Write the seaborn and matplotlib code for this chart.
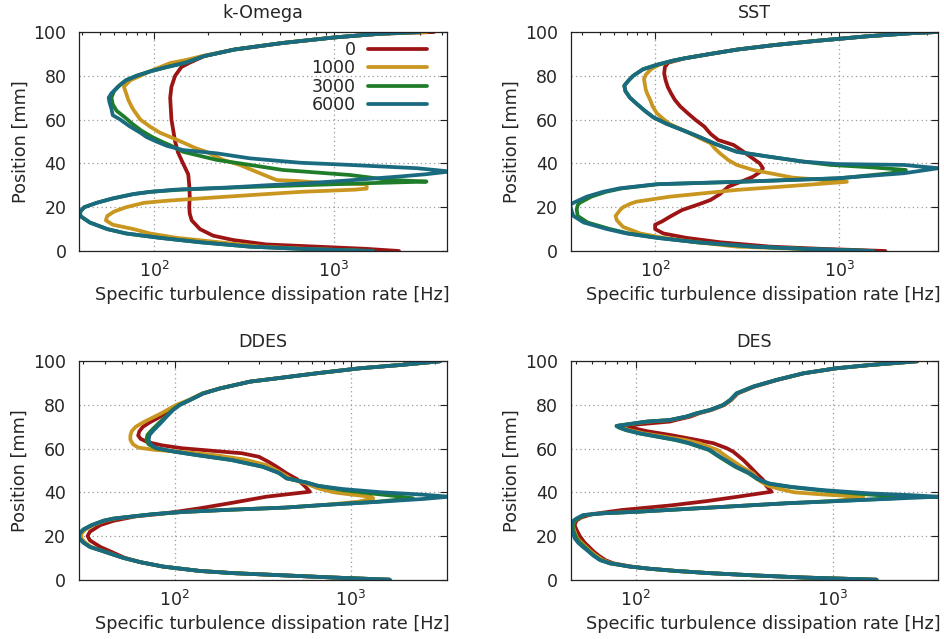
import matplotlib
matplotlib.use("Agg")
import matplotlib.pyplot as plt
import pandas as pd
import seaborn as sns
from matplotlib.ticker import FixedLocator, LogLocator, LogFormatterMathtext, NullFormatter

# ---------------- data ----------------
SERIES = ["0", "1000", "3000", "6000"]
COLORS = ["#9c1414", "#c9961f", "#1f7d2a", "#1a6a80"]
TITLES = ["k-Omega", "SST", "DDES", "DES"]
XLABEL = "Specific turbulence dissipation rate [Hz]"
YLABEL = "Position [mm]"
YTICKS = [0, 20, 40, 60, 80, 100]
XTICKS = [100, 1000]
XLIMS = [(38.3, 4250), (34.8, 3450), (28.5, 3510), (46.8, 3440)]

# k-Omega
KO_POS_0 = [0, 1, 3, 5, 7, 10, 14, 17, 20, 25, 30, 35, 40, 45, 50, 55, 60, 65, 70, 75, 80, 84, 86, 89, 92, 95, 97.5, 99.2, 100]
KO_VAL_0 = [2300, 1500, 420, 276, 213, 180, 162, 158, 157, 158, 157, 155, 145, 136, 131, 128, 125, 124, 123, 125, 131, 142, 158, 190, 280, 520, 1000, 1800, 3600]
KO_POS_1 = [0, 1, 2, 4, 6, 8, 10, 12, 14, 16, 18, 20, 22, 23, 24, 25.5, 27, 28, 28.5, 30.5, 31, 32, 32.4, 35.5, 39.3, 41.6, 43.8, 45.3, 47, 49, 51.5, 54, 56.8, 60, 64.4, 66, 69, 72, 75, 78, 80, 82.7, 85.8, 87.3, 89, 92, 95, 97.5, 99.2, 100]
KO_VAL_1 = [1500, 700, 390, 230, 134, 95, 77, 59, 54, 55, 60, 70, 88, 120, 180, 340, 650, 1300, 1520, 1520, 900, 620, 480, 388, 300, 242, 213, 195, 170, 150, 128, 108, 95, 84, 77, 75, 72, 70, 68, 74, 84, 99, 123, 152, 185, 280, 520, 1000, 1800, 3300]
KO_POS_2 = [0, 1, 2, 4, 6, 8, 10, 13, 16, 18, 20, 22, 24, 26, 27, 28, 29, 30, 31, 31.7, 32.5, 34.7, 37, 39.3, 41.6, 45.3, 48, 50, 52, 55, 58, 61, 64, 67, 70, 73, 76, 78, 80, 82, 84, 86, 89, 92, 95, 97.5, 99.2, 100]
KO_VAL_2 = [1650, 650, 340, 180, 108, 70, 55, 44, 39, 39, 41, 48, 59, 77, 95, 140, 280, 650, 1600, 3270, 2000, 1230, 520, 342, 223, 145, 125, 110, 98, 85, 76, 69, 62, 59, 58, 60, 65, 70, 80, 95, 118, 150, 190, 280, 520, 1000, 1800, 3000]
KO_POS_3 = [0, 1, 2, 4, 6, 8, 10, 13, 16, 18, 20, 22, 24, 26, 27, 28, 29, 30, 31, 32, 33, 34, 35, 36.3, 37.8, 39.3, 40.3, 42.3, 44.6, 46.1, 48, 50, 52, 54, 57, 60, 62, 65, 68, 70, 72, 75, 78, 80, 82, 84, 86, 89, 92, 95, 97.5, 99.2, 100]
KO_VAL_3 = [1650, 650, 340, 180, 108, 70, 55, 44, 38.8, 38.8, 41, 48, 59, 77, 95, 130, 260, 420, 720, 1100, 1600, 2300, 3200, 4400, 2900, 1230, 650, 342, 223, 145, 118, 103, 91, 84, 73, 65, 59, 58, 56.5, 56, 58, 63, 70, 80, 95, 118, 150, 190, 280, 520, 1000, 1800, 3000]

# SST
SST_POS_0 = [0, 1, 2, 4, 6, 8, 10, 12, 13.5, 15.6, 18.7, 21.5, 23.3, 26, 29.4, 32, 33.9, 36, 37.8, 40, 43, 45.5, 48.4, 50.7, 53.5, 56.8, 60, 63, 66, 69, 72, 75, 78, 81, 84, 86, 88, 90, 92, 94, 96, 98, 99.5, 100]
SST_VAL_0 = [1780, 790, 420, 225, 148, 111, 100, 100, 109, 120, 140, 175, 200, 225, 250, 300, 340, 370, 385, 370, 330, 300, 267, 220, 200, 185, 165, 150, 137, 128, 122, 117, 114, 112, 113, 118, 145, 200, 280, 440, 760, 1400, 2500, 3400]
SST_POS_1 = [0, 1, 2, 4, 6, 8, 11, 14, 16, 18.7, 20, 21.5, 22.5, 24.8, 27.9, 30.1, 31.6, 32.5, 33.5, 35.5, 37, 39.3, 41.5, 44.6, 47, 49.2, 51.5, 53.7, 56, 58, 60.5, 63, 66, 69, 71.5, 73.6, 76, 78.5, 80.5, 83, 85, 86.5, 88, 90, 92, 94, 96, 98, 99.5, 100]
SST_VAL_1 = [1050, 600, 278, 168, 111, 83, 67, 62, 61, 64.5, 67, 73, 79, 120, 278, 640, 1100, 800, 560, 422, 340, 278, 250, 225, 210, 200, 175, 155, 135, 120, 110, 102, 97, 94, 91, 89, 88, 87, 89, 95, 105, 120, 145, 200, 280, 440, 760, 1400, 2500, 3400]
SST_POS_2 = [0, 1, 2, 4, 6, 8, 10, 13, 16, 19, 21, 22, 24.8, 27, 28.6, 30.5, 31.6, 33.2, 35.5, 37, 38.2, 39.3, 40.8, 43, 45.3, 47.5, 49.2, 52, 55, 58, 61, 64, 67, 70, 73, 75.5, 78, 80, 83, 85, 87, 88, 90, 92, 94, 96, 98, 99.5, 100]
SST_VAL_2 = [1530, 640, 342, 168, 104, 72, 57, 43, 38, 37.5, 38, 39, 45, 54, 66, 104, 290, 1000, 1900, 2300, 1500, 900, 640, 420, 278, 235, 208, 175, 143, 116, 98, 88, 80, 73, 69, 68, 72, 76, 86, 102, 126, 145, 200, 280, 440, 760, 1400, 2500, 3400]
SST_POS_3 = [0, 1, 2, 4, 6, 8, 10, 13, 16, 19, 21, 22, 24.8, 27, 28.6, 30.5, 31.6, 33.2, 35.5, 37.8, 39.3, 39.7, 40.8, 43, 45.3, 47.5, 49.2, 52, 55, 58, 61, 64, 67, 70, 73, 75.5, 78, 80, 83, 85, 87, 88, 90, 92, 94, 96, 98, 99.5, 100]
SST_VAL_3 = [1530, 640, 342, 168, 102, 70, 55, 41, 36, 35, 34.5, 36, 42.5, 52, 64, 102, 278, 970, 2240, 3450, 2240, 970, 640, 420, 278, 235, 208, 175, 143, 116, 98, 88, 80, 73, 69, 68, 72, 76, 86, 102, 126, 145, 200, 280, 440, 760, 1400, 2500, 3400]

# DDES
DDES_POS_0 = [0, 1, 2, 3, 4, 6, 8, 10, 13, 15, 18, 20, 22, 25, 27, 29, 30, 31, 32.7, 35.3, 38, 40.3, 43, 46, 48.7, 51.7, 54, 56.3, 57.9, 58.9, 60.2, 61.5, 63, 64.5, 66, 68, 70, 72, 74, 76, 78, 80, 82.3, 85.3, 87.6, 90.7, 92.2, 94.5, 96.8, 98.3, 100]
DDES_VAL_0 = [1660, 795, 413, 215, 139, 86, 64, 52, 43, 37.8, 33, 32, 33, 37.8, 45, 60, 80, 100, 139, 215, 331, 585, 545, 495, 431, 379, 340, 300, 240, 170, 110, 85, 70, 64, 62, 63, 66, 72, 80, 88, 96, 105, 122, 145, 181, 268, 379, 638, 1125, 1900, 3200]
DDES_POS_1 = [0, 1, 2, 3, 4, 6, 8, 10, 13, 15, 17, 19, 21, 23, 25, 27, 28, 29, 30, 31, 32, 33, 34.2, 35.7, 37.2, 38, 39, 40, 42, 44, 46, 48, 50, 52.5, 55, 57, 58, 59.5, 60.5, 62, 64, 66, 68, 70, 72, 74, 76, 78, 80, 82.3, 85.3, 87.6, 90.7, 92.2, 94.5, 96.8, 98.3, 100]
DDES_VAL_1 = [1660, 795, 413, 215, 139, 86, 64, 51, 39.4, 33.5, 31, 29.5, 29.5, 31, 34.5, 40, 46, 59, 77, 112, 205, 420, 700, 1100, 1340, 1300, 1000, 800, 640, 560, 460, 420, 380, 330, 250, 170, 130, 76, 62, 58, 56, 56, 57, 60, 66, 74, 83, 92, 102, 120, 143, 181, 268, 379, 638, 1125, 1900, 3200]
DDES_POS_2 = [0, 1, 2, 3, 4, 6, 8, 10, 13, 15, 17, 19, 21, 23, 25, 27, 28, 29, 30, 31, 32, 33, 34.2, 35.7, 37.3, 38.3, 39.5, 41, 43, 44.5, 46.4, 48.9, 51.7, 54.8, 57, 58.6, 60.2, 62, 64, 66.3, 68.5, 71.6, 74.7, 77.7, 80, 82.3, 85.3, 87.6, 90.7, 92.2, 94.5, 96.8, 98.3, 100]
DDES_VAL_2 = [1660, 795, 413, 215, 139, 86, 64, 51, 39.4, 33, 30.3, 28.7, 28.7, 30.3, 33.8, 39.4, 45, 58, 75, 110, 200, 420, 700, 1400, 2250, 1800, 1300, 900, 650, 560, 431, 390, 316, 210, 135, 100, 78, 71, 69, 70, 74, 81, 89, 97, 106, 122, 145, 181, 268, 379, 638, 1125, 1900, 3200]
DDES_POS_3 = [0, 1, 2, 3, 4, 6, 8, 10, 13, 15, 17, 19, 21, 23, 25, 27, 28, 29, 30, 31, 32, 33, 34.2, 35.7, 37, 38, 39, 40, 41.5, 43, 44.5, 46.4, 48.9, 51.7, 54.8, 57, 58.6, 60.2, 62, 64, 66.3, 68.5, 71.6, 74.7, 77.7, 80, 82.3, 85.3, 87.6, 90.7, 92.2, 94.5, 96.8, 98.3, 100]
DDES_VAL_3 = [1660, 795, 413, 215, 139, 86, 64, 51, 39.4, 33, 30.3, 28.7, 28.7, 30.3, 33.8, 39.4, 45, 58, 75, 110, 200, 420, 700, 1460, 2600, 3600, 2500, 1500, 900, 650, 560, 431, 390, 316, 210, 135, 100, 79, 73, 71, 72, 76, 83, 90, 98, 107, 122, 145, 181, 268, 379, 638, 1125, 1900, 3200]

# DES
DES_POS_0 = [0, 1, 2, 3, 4, 5, 6, 7.5, 9, 11, 13, 15, 17, 20, 23, 25, 27, 28.5, 30, 31.9, 34, 36, 38, 40.3, 43, 45.6, 48.7, 51.8, 54.8, 58.6, 60.2, 62.5, 64, 66.3, 68, 69.8, 70.4, 71.3, 72.4, 73.1, 74.7, 76.2, 77.7, 80, 82.3, 85.3, 88.4, 91.5, 94.5, 96.8, 98.3, 100]
DES_VAL_0 = [1670, 710, 395, 238, 161, 118, 95, 77, 70, 65, 61, 58, 55, 52, 50, 49, 50, 53, 60, 85, 150, 230, 330, 490, 460, 445, 410, 380, 352, 313, 290, 248, 204, 149, 114, 93, 83, 109, 149, 160, 190, 210, 242, 282, 306, 330, 400, 525, 715, 1050, 1560, 2700]
DES_POS_1 = [0, 1, 2, 3, 4, 5, 6, 7.5, 9, 11, 13, 15, 17, 19, 21, 23, 25, 27, 28, 29.6, 30.4, 31.1, 32.4, 33.7, 35, 36, 37.3, 38, 39, 40, 41.5, 43, 45, 48.7, 51.7, 56.3, 59.4, 62.5, 64, 65.5, 67, 68.5, 69.7, 70.4, 71.3, 72.4, 73.1, 74.7, 76.2, 77.7, 80, 82.3, 85.3, 88.4, 91.5, 94.5, 96.8, 98.3, 100]
DES_VAL_1 = [1670, 710, 395, 238, 161, 118, 94, 75, 68, 63, 59, 56, 53, 50.5, 49.5, 48.5, 48, 49, 51, 55, 68, 101, 181, 325, 584, 1000, 1350, 1430, 900, 640, 540, 470, 430, 395, 345, 290, 260, 210, 178, 140, 110, 93, 84, 80, 95, 116, 150, 183, 206, 240, 280, 304, 327, 397, 522, 712, 1045, 1555, 2680]
DES_POS_2 = [0, 1, 2, 3, 4, 5, 6, 7.5, 9, 11, 13, 15, 17, 19, 21, 23, 25, 27, 28, 29.6, 30.4, 31.1, 32.4, 33.7, 35, 36, 37.3, 38, 38.7, 39.5, 41, 42.5, 44, 46, 48.7, 51.7, 56.3, 59.4, 62.5, 64, 65.5, 67, 68.5, 69.7, 70.4, 71.3, 72.4, 73.1, 74.7, 76.2, 77.7, 80, 82.3, 85.3, 88.4, 91.5, 94.5, 96.8, 98.3, 100]
DES_VAL_2 = [1670, 710, 395, 238, 161, 118, 93.5, 74, 66, 61.5, 58, 55, 52, 50, 49, 48, 48, 49, 51, 55, 68, 101, 181, 325, 584, 1050, 2100, 2200, 1700, 1300, 850, 600, 470, 415, 375, 320, 265, 235, 185, 158, 128, 104, 89, 82, 80, 93.5, 114, 149, 181, 204, 238, 278, 302, 325, 395, 520, 710, 1040, 1550, 2670]
DES_POS_3 = [0, 1, 2, 3, 4, 5, 6, 7.5, 9, 11, 13, 15, 17, 19, 21, 23, 25, 27, 28, 29.6, 30.4, 31.1, 32.4, 33.7, 35, 36, 37.3, 38, 38.7, 39.5, 41, 42.5, 44, 46, 48.7, 51.7, 56.3, 59.4, 62.5, 64, 65.5, 67, 68.5, 69.7, 70.4, 71.3, 72.4, 73.1, 74.7, 76.2, 77.7, 80, 82.3, 85.3, 88.4, 91.5, 94.5, 96.8, 98.3, 100]
DES_VAL_3 = [1670, 710, 395, 238, 161, 118, 93.5, 74, 66, 61, 57.5, 54, 51, 49, 48.3, 47.3, 47.3, 48.3, 50, 54, 68, 101, 181, 325, 584, 1050, 2290, 3440, 2500, 1550, 900, 620, 480, 420, 380, 325, 268, 238, 188, 161, 130, 105, 90, 83, 80, 93.5, 114, 149, 181, 204, 238, 278, 302, 325, 395, 520, 710, 1040, 1550, 2670]

PANELS = [
    [(KO_POS_0, KO_VAL_0), (KO_POS_1, KO_VAL_1), (KO_POS_2, KO_VAL_2), (KO_POS_3, KO_VAL_3)],
    [(SST_POS_0, SST_VAL_0), (SST_POS_1, SST_VAL_1), (SST_POS_2, SST_VAL_2), (SST_POS_3, SST_VAL_3)],
    [(DDES_POS_0, DDES_VAL_0), (DDES_POS_1, DDES_VAL_1), (DDES_POS_2, DDES_VAL_2), (DDES_POS_3, DDES_VAL_3)],
    [(DES_POS_0, DES_VAL_0), (DES_POS_1, DES_VAL_1), (DES_POS_2, DES_VAL_2), (DES_POS_3, DES_VAL_3)],
]

# ---------------- style ----------------
sns.set_style("white")
plt.rcParams["font.family"] = ["DejaVu Sans"]
TEXT_COLOR = "#262626"

fig = plt.figure(figsize=(9.45, 6.39), dpi=100)
W, H = 945.0, 639.0
AX_BOXES = [
    (79, 32, 447, 251),
    (570.7, 32, 938.3, 251),
    (78.7, 361.3, 447, 579.7),
    (570.7, 361.3, 938.3, 579.7),
]

for i, (x0, y0, x1, y1) in enumerate(AX_BOXES):
    ax = fig.add_axes([x0 / W, 1 - y1 / H, (x1 - x0) / W, (y1 - y0) / H])
    ax.set_xscale("log")
    for k, (pos, val) in enumerate(PANELS[i]):
        df = pd.DataFrame({"rate": val, "pos": pos})
        sns.lineplot(data=df, x="rate", y="pos", orient="y", sort=False,
                     estimator=None, color=COLORS[k], lw=2.7,
                     label=SERIES[k], ax=ax, legend=False)
    ax.set_xlim(*XLIMS[i])
    ax.set_ylim(0, 100)
    ax.xaxis.set_major_locator(FixedLocator(XTICKS))
    ax.xaxis.set_major_formatter(LogFormatterMathtext())
    ax.xaxis.set_minor_locator(LogLocator(base=10, subs=range(2, 10), numticks=20))
    ax.xaxis.set_minor_formatter(NullFormatter())
    ax.yaxis.set_major_locator(FixedLocator(YTICKS))
    ax.grid(True, which="major", color="#9a9a9a", linestyle=(0, (1, 2.5)), lw=0.9)
    ax.tick_params(which="both", direction="in", top=True, right=True,
                   colors="#222222", labelcolor=TEXT_COLOR, labelsize=12.5)
    ax.tick_params(which="major", length=5, width=0.8, pad=7)
    ax.tick_params(which="minor", length=2.5, width=0.8)
    ax.tick_params(axis="y", pad=9)
    for s in ax.spines.values():
        s.set_color("#222222")
        s.set_linewidth(0.9)
    ax.set_title(TITLES[i], fontsize=12.6, color=TEXT_COLOR, pad=10)
    ax.set_xlabel(XLABEL, fontsize=12.7, color=TEXT_COLOR)
    ax.set_ylabel(YLABEL, fontsize=12.7, color=TEXT_COLOR)
    ax.xaxis.set_label_coords(0.525, -0.16)
    ax.xaxis.label.set_va("top")
    ax.yaxis.set_label_coords(-0.135, 0.5)
    if i == 0:
        leg = ax.legend(loc="upper right", bbox_to_anchor=(0.945, 0.96),
                        frameon=False, markerfirst=False, fontsize=12.5,
                        handlelength=3.4, handletextpad=0.7, labelspacing=0.03,
                        borderpad=0, borderaxespad=0)
        for t in leg.get_texts():
            t.set_color(TEXT_COLOR)

fig.savefig("out.png", dpi=100, facecolor="white")
